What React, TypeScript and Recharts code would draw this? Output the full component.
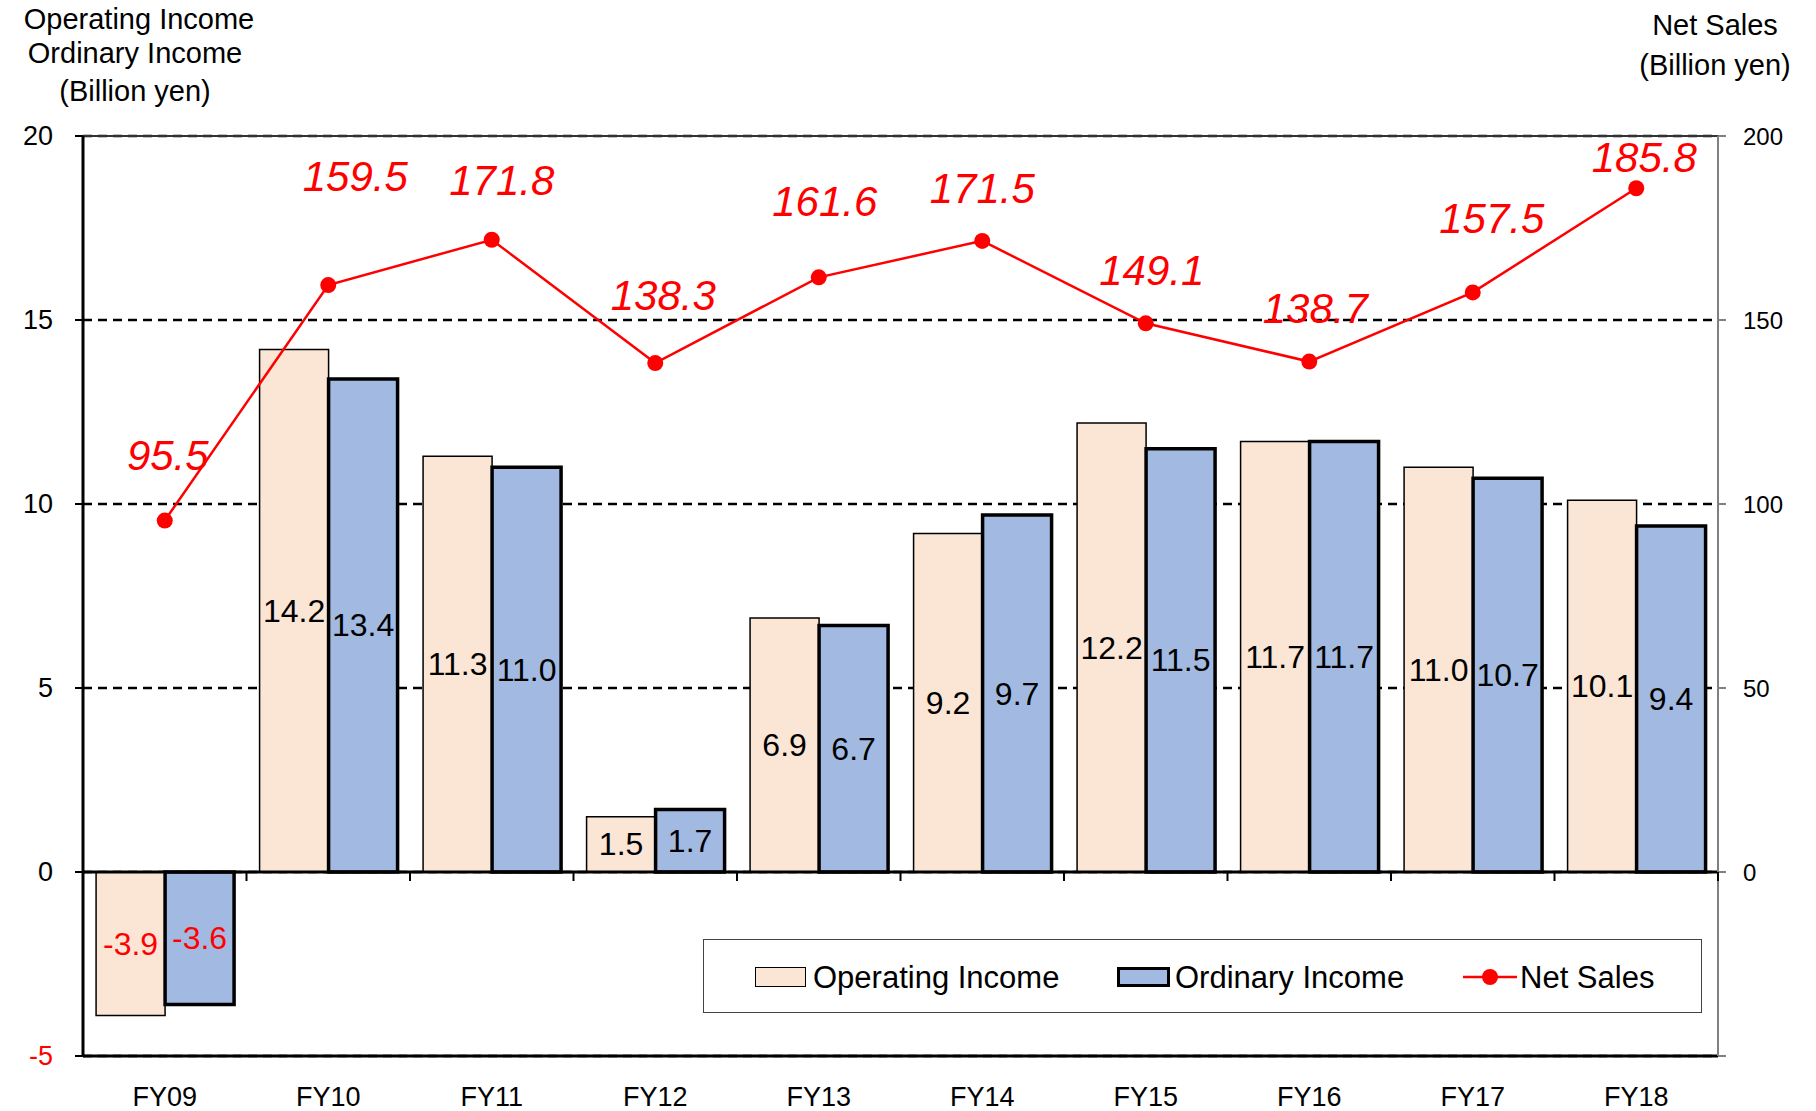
import React from 'react';
import {
  ComposedChart,
  Bar,
  Line,
  XAxis,
  YAxis,
  CartesianGrid,
  ReferenceLine,
  LabelList,
  Legend,
} from 'recharts';

// 年度
const categories = ['FY09', 'FY10', 'FY11', 'FY12', 'FY13', 'FY14', 'FY15', 'FY16', 'FY17', 'FY18'];
// 営業利益 / 経常利益 (十億円)
const operatingIncome = [-3.9, 14.2, 11.3, 1.5, 6.9, 9.2, 12.2, 11.7, 11.0, 10.1];
const ordinaryIncome = [-3.6, 13.4, 11.0, 1.7, 6.7, 9.7, 11.5, 11.7, 10.7, 9.4];
// 売上高 (十億円)
const netSales = [95.5, 159.5, 171.8, 138.3, 161.6, 171.5, 149.1, 138.7, 157.5, 185.8];

const leftTicks = [-5, 0, 5, 10, 15, 20];
const rightTicks = [-50, 0, 50, 100, 150, 200];

const data = categories.map((name, i) => ({
  name,
  operating: operatingIncome[i],
  ordinary: ordinaryIncome[i],
  sales: netSales[i],
}));

// label nudges for the net sales values (manually placed in the original)
const salesLabelDx = [3, 27, 10, 8, 6, 0, 6, 6, 19, 8];
const salesLabelDy = [-65, -109, -59, -68, -76, -52, -53, -53, -74, -31];

const FONT = '"Liberation Sans", Arial, sans-serif';
const PEACH = '#FBE5D5';
const BLUE = '#A2BAE1';
const RED = '#FF0000';

const W = 1816;
const H = 1111;
const PLOT_LEFT = 83;
const PLOT_RIGHT = 1718;
const PLOT_TOP = 136;
const PLOT_BOTTOM = 1056;
const BAND = (PLOT_RIGHT - PLOT_LEFT) / categories.length;
const ZERO_Y = PLOT_BOTTOM - (5 / 25) * (PLOT_BOTTOM - PLOT_TOP);

const XTick = (props: any) => {
  const { x, y, payload } = props;
  return (
    <g>
      <text x={x} y={y + 41} textAnchor="middle" dominantBaseline="central" fontSize={27} fontFamily={FONT} fill="#000">
        {payload.value}
      </text>
      <line x1={x + BAND / 2} x2={x + BAND / 2} y1={ZERO_Y} y2={ZERO_Y + 9} stroke="#000" strokeWidth={2} />
    </g>
  );
};

const LeftTick = (props: any) => {
  const { x, y, payload } = props;
  return (
    <text x={x} y={y} textAnchor="end" dominantBaseline="central" fontSize={27} fontFamily={FONT} fill={payload.value < 0 ? RED : '#000'}>
      {payload.value}
    </text>
  );
};

const RightTick = (props: any) => {
  const { x, y, payload } = props;
  if (payload.value < 0) return <g />;
  return (
    <text x={x} y={y} textAnchor="start" dominantBaseline="central" fontSize={24} fontFamily={FONT} fill="#000">
      {payload.value}
    </text>
  );
};

const BarValue = (props: any) => {
  const { x, y, width, height, value } = props;
  return (
    <text
      x={x + width / 2}
      y={y + height / 2}
      textAnchor="middle"
      dominantBaseline="central"
      fontSize={32}
      fontFamily={FONT}
      fill={value < 0 ? RED : '#000'}
    >
      {Number(value).toFixed(1)}
    </text>
  );
};

const SalesValue = (props: any) => {
  const { x, y, value, index } = props;
  return (
    <text
      x={x + salesLabelDx[index]}
      y={y + salesLabelDy[index]}
      textAnchor="middle"
      dominantBaseline="central"
      fontSize={42}
      fontStyle="italic"
      fontFamily={FONT}
      fill={RED}
    >
      {Number(value).toFixed(1)}
    </text>
  );
};

const legendText: React.CSSProperties = {
  position: 'absolute',
  top: 37,
  transform: 'translateY(-50%)',
  fontSize: 31,
  fontFamily: FONT,
  color: '#000',
  whiteSpace: 'nowrap',
  lineHeight: 1,
};

const LegendBox = () => (
  <div style={{ position: 'relative', width: 999, height: 74, boxSizing: 'border-box', border: '1.5px solid #444', background: '#fff' }}>
    <div style={{ position: 'absolute', left: 51, top: 27, width: 51, height: 20, boxSizing: 'border-box', background: PEACH, border: '1.5px solid #000' }} />
    <span style={{ ...legendText, left: 109 }}>Operating Income</span>
    <div style={{ position: 'absolute', left: 413, top: 27, width: 53, height: 20, boxSizing: 'border-box', background: BLUE, border: '3.5px solid #000' }} />
    <span style={{ ...legendText, left: 471 }}>Ordinary Income</span>
    <svg style={{ position: 'absolute', left: 759, top: 27 }} width={54} height={20}>
      <line x1={0} x2={54} y1={10} y2={10} stroke={RED} strokeWidth={2.5} />
      <circle cx={27} cy={10} r={8} fill={RED} />
    </svg>
    <span style={{ ...legendText, left: 816 }}>Net Sales</span>
  </div>
);

const App: React.FC = () => {
  return (
    <div style={{ position: 'absolute', left: 0, top: 0, width: W, height: H, background: '#fff' }}>
      <ComposedChart
        width={W}
        height={H}
        data={data}
        margin={{ top: PLOT_TOP, right: 0, bottom: 0, left: 0 }}
        barCategoryGap="8%"
        barGap={0}
      >
        <CartesianGrid yAxisId="left" vertical={false} stroke="#000" strokeWidth={2.5} strokeDasharray="9 6" />
        <XAxis
          dataKey="name"
          height={H - PLOT_BOTTOM}
          axisLine={{ stroke: '#000', strokeWidth: 3 }}
          tickLine={false}
          tickSize={0}
          tickMargin={0}
          tick={<XTick />}
          interval={0}
        />
        <YAxis
          yAxisId="left"
          width={PLOT_LEFT}
          domain={[-5, 20]}
          ticks={leftTicks}
          allowDataOverflow
          axisLine={{ stroke: '#000', strokeWidth: 3 }}
          tickLine={{ stroke: '#000', strokeWidth: 2 }}
          tickSize={8}
          tickMargin={22}
          tick={<LeftTick />}
        />
        <YAxis
          yAxisId="right"
          orientation="right"
          width={W - PLOT_RIGHT}
          domain={[-50, 200]}
          ticks={rightTicks}
          allowDataOverflow
          axisLine={{ stroke: '#808080', strokeWidth: 2 }}
          tickLine={{ stroke: '#808080', strokeWidth: 2 }}
          tickSize={8}
          tickMargin={17}
          tick={<RightTick />}
        />
        <ReferenceLine yAxisId="left" y={20} stroke="#333" strokeWidth={2} />
        <Bar yAxisId="left" dataKey="operating" name="Operating Income" fill={PEACH} stroke="#000" strokeWidth={1.5} isAnimationActive={false}>
          <LabelList dataKey="operating" content={<BarValue />} />
        </Bar>
        <Bar yAxisId="left" dataKey="ordinary" name="Ordinary Income" fill={BLUE} stroke="#000" strokeWidth={3.5} isAnimationActive={false}>
          <LabelList dataKey="ordinary" content={<BarValue />} />
        </Bar>
        <ReferenceLine yAxisId="left" y={0} stroke="#000" strokeWidth={3} />
        <Line
          yAxisId="right"
          dataKey="sales"
          name="Net Sales"
          stroke={RED}
          strokeWidth={2.5}
          dot={{ r: 8, fill: RED, stroke: 'none' }}
          activeDot={false}
          isAnimationActive={false}
        >
          <LabelList dataKey="sales" content={<SalesValue />} />
        </Line>
        <Legend
          layout="horizontal"
          verticalAlign="middle"
          align="center"
          content={<LegendBox />}
          wrapperStyle={{ position: 'absolute', left: 703, top: 939, width: 999, height: 74 }}
        />
      </ComposedChart>
      <svg style={{ position: 'absolute', left: 0, top: 0, pointerEvents: 'none' }} width={W} height={130}>
        <g fontFamily={FONT} fontSize={29} fill="#000" textAnchor="middle">
          <text x={139} y={29}>Operating Income</text>
          <text x={135} y={63}>Ordinary Income</text>
          <text x={135} y={101}>(Billion yen)</text>
          <text x={1715} y={35}>Net Sales</text>
          <text x={1715} y={75}>(Billion yen)</text>
        </g>
      </svg>
    </div>
  );
};

export default App;
